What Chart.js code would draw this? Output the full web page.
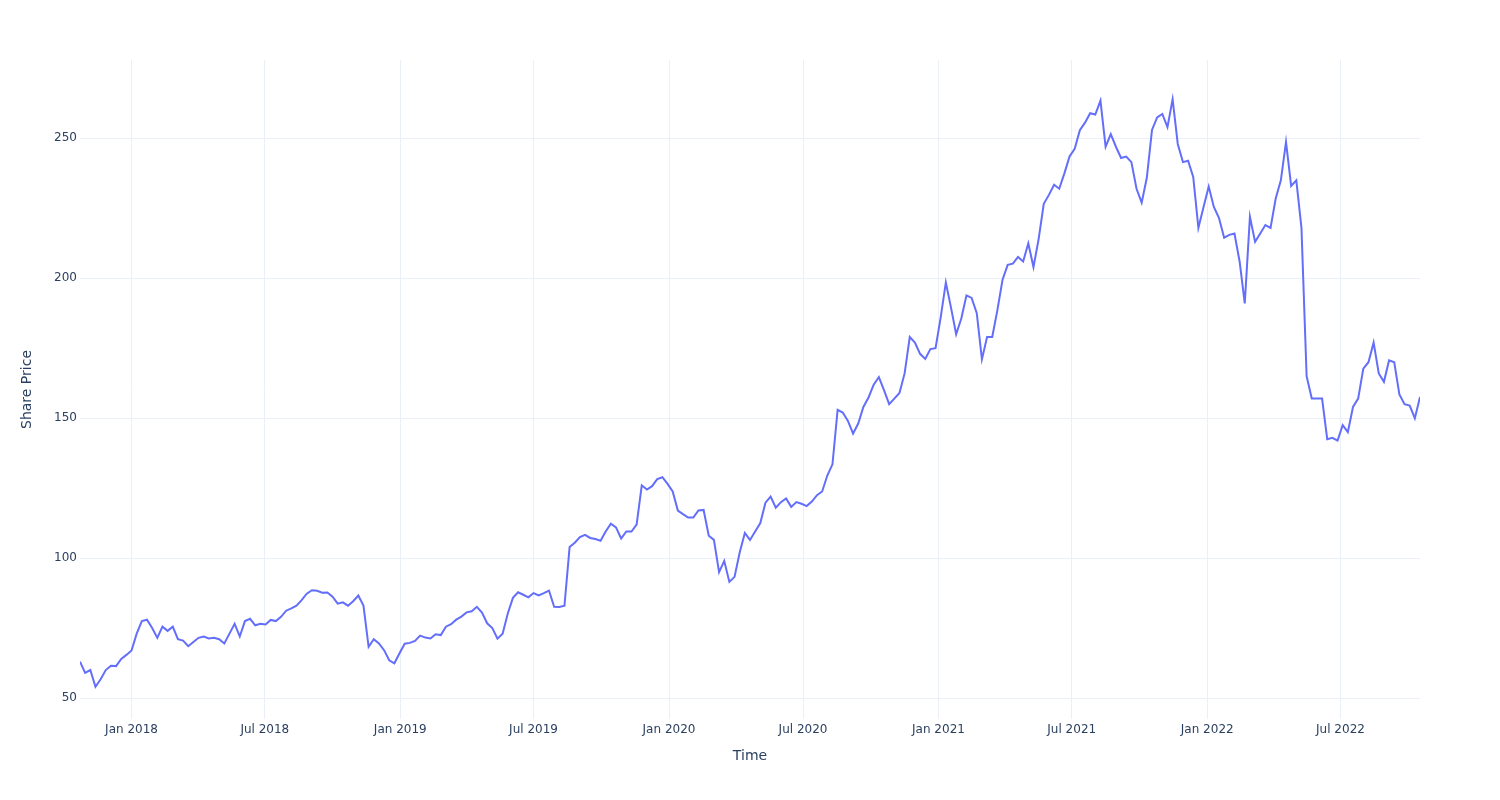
<!DOCTYPE html>
<html>
<head>
<meta charset="utf-8">
<title>Share Price</title>
<script src="https://cdn.jsdelivr.net/npm/chart.js@4.4.0/dist/chart.umd.min.js"></script>
<style>
    html, body { margin: 0; padding: 0; background: #ffffff; }
    #chartBox { width: 1500px; height: 800px; }
</style>
</head>
<body>
<div id="chartBox"><canvas id="priceChart" width="1500" height="800"></canvas></div>
<script>
//Weekly closing prices, first week starting on this date
const startDate = '2017-10-23';

//Share price, one value per week
const weeklyPrice = [
    63.0, 59, 60, 54, 56.7, 60, 61.5, 61.4, 64, 65.4,
    67, 73, 77.5, 78, 75, 71.5, 75.5, 74, 75.5, 71,
    70.5, 68.5, 70, 71.5, 72, 71.3, 71.5, 71, 69.5, 73,
    76.5, 72, 77.5, 78.3, 76, 76.5, 76.3, 77.9, 77.5, 79,
    81.2, 82, 83, 85, 87.3, 88.5, 88.3, 87.6, 87.7, 86.2,
    83.7, 84.2, 83, 84.6, 86.6, 83, 68.3, 71, 69.5, 67.1,
    63.5, 62.4, 66, 69.4, 69.7, 70.4, 72.3, 71.6, 71.3, 72.8,
    72.5, 75.5, 76.4, 78, 79.1, 80.6, 81, 82.6, 80.5, 76.7,
    75, 71.2, 73, 80.2, 85.8, 87.8, 86.9, 86, 87.5, 86.7,
    87.5, 88.4, 82.6, 82.5, 83, 104, 105.5, 107.5, 108.3, 107.2,
    106.8, 106.2, 109.5, 112.3, 111, 107, 109.5, 109.5, 112, 126,
    124.5, 125.7, 128.2, 128.9, 126.5, 123.8, 117, 115.7, 114.5, 114.5,
    117, 117.2, 108, 106.5, 95, 99, 91.5, 93.3, 102, 109,
    106.5, 109.5, 112.5, 119.8, 122, 118, 120, 121.3, 118.3, 120,
    119.4, 118.6, 120.2, 122.5, 123.8, 129.5, 133.5, 153, 152, 149,
    144.5, 148.1, 154, 157.4, 162, 164.7, 160, 155, 157, 159,
    166, 179, 177, 173, 171.2, 174.7, 175, 186, 198.5, 189.5,
    180, 185.6, 193.9, 193, 187.5, 171, 179, 179, 188.6, 199.5,
    204.8, 205.2, 207.6, 206, 212.5, 204, 214, 226.6, 229.8, 233.4,
    232, 237.5, 243.5, 246.3, 252.9, 255.6, 259, 258.5, 263.5, 247,
    251.5, 247, 243, 243.5, 241.5, 232, 227, 236, 253, 257.5,
    258.7, 254, 264, 248, 241.5, 242, 236.2, 218, 225.5, 232.8,
    225.5, 221.5, 214.5, 215.5, 216, 206, 191, 222, 213, 216,
    219, 218, 228.5, 235, 248.7, 233, 235, 218, 165, 157,
    157, 157, 142.5, 143, 142, 147.5, 145, 154, 157, 167.7,
    170, 177, 166, 163, 170.7, 170, 158.5, 155, 154.5, 150,
    157.6
];

//Tick marks on the time axis
const tickDates = ['2018-01-01', '2018-07-01', '2019-01-01', '2019-07-01', '2020-01-01',
    '2020-07-01', '2021-01-01', '2021-07-01', '2022-01-01', '2022-07-01'];
const tickLabels = ['Jan 2018', 'Jul 2018', 'Jan 2019', 'Jul 2019', 'Jan 2020',
    'Jul 2020', 'Jan 2021', 'Jul 2021', 'Jan 2022', 'Jul 2022'];
const priceTicks = [50, 100, 150, 200, 250];

const DAY = 24 * 60 * 60 * 1000;
const textColor = '#2a3f5f';
const gridColor = '#ebf0f8';
const fontFamily = '"DejaVu Sans", Verdana, sans-serif';

//Turning the weekly values into x/y points
const start = Date.parse(startDate);
const points = weeklyPrice.map((price, i) => ({ x: start + i * 7 * DAY, y: price }));

const data = {
    datasets: [
        {
            label: 'Share Price',
            data: points,
            borderColor: '#636efa',
            backgroundColor: '#636efa',
            borderWidth: 2,
            pointRadius: 0,
            tension: 0,
            fill: false,
        }
    ]
};

const config = {
    type: 'line',
    data: data,
    options: {
        responsive: false,
        animation: false,
        layout: {
            padding: { left: 0, right: 80, top: 60, bottom: 0 }
        },
        plugins: {
            legend: { display: false },
            tooltip: { enabled: false }
        },
        scales: {
            x: {
                type: 'linear',
                min: points[0].x,
                max: points[points.length - 1].x,
                afterFit: scale => { scale.height = 81; },
                afterBuildTicks: scale => {
                    scale.ticks = tickDates.map(d => ({ value: Date.parse(d) }));
                },
                ticks: {
                    autoSkip: false,
                    maxRotation: 0,
                    padding: 4,
                    color: textColor,
                    font: { family: fontFamily, size: 12 },
                    callback: (value, index) => tickLabels[index]
                },
                grid: { color: gridColor, lineWidth: 1, drawTicks: false },
                border: { display: false },
                title: {
                    display: true,
                    text: 'Time',
                    color: textColor,
                    font: { family: fontFamily, size: 14 },
                    padding: { top: 0, bottom: 35.6 }
                }
            },
            y: {
                min: 42.5,
                max: 278,
                afterFit: scale => { scale.width = 80; },
                afterBuildTicks: scale => {
                    scale.ticks = priceTicks.map(v => ({ value: v }));
                },
                ticks: {
                    padding: 3,
                    color: textColor,
                    font: { family: fontFamily, size: 12 }
                },
                grid: { color: gridColor, lineWidth: 1, drawTicks: false },
                border: { display: false },
                title: {
                    display: true,
                    text: 'Share Price',
                    color: textColor,
                    font: { family: fontFamily, size: 14 },
                    padding: { top: 18.6, bottom: 0 }
                }
            }
        }
    }
};

//Rendering the chart
const ctx = document.getElementById('priceChart').getContext('2d');
new Chart(ctx, config);
</script>
</body>
</html>
